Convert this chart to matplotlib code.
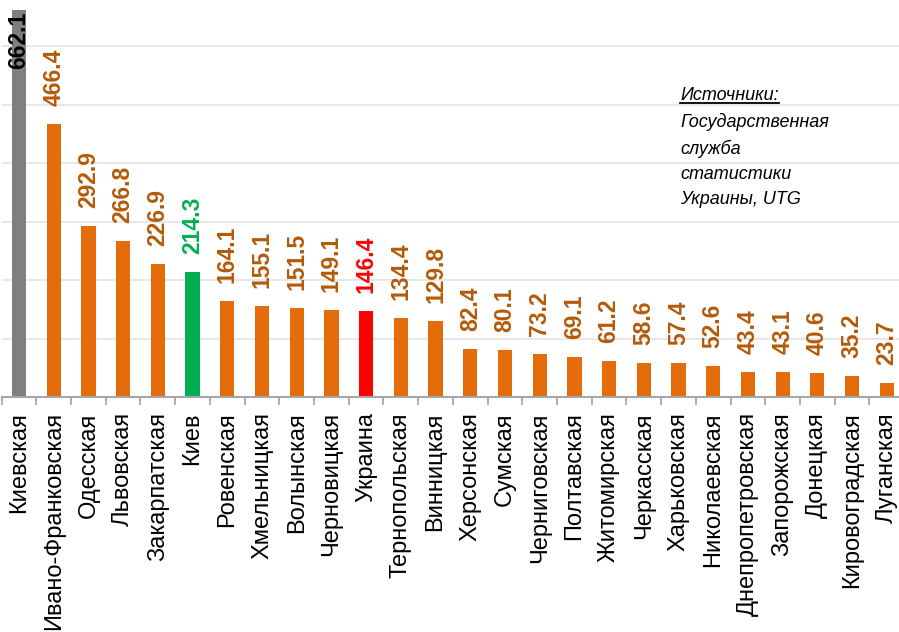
import matplotlib.pyplot as plt
from matplotlib.lines import Line2D
import numpy as np

plt.rcParams['font.family'] = ['Liberation Sans', 'DejaVu Sans']

regions = [
    "Киевская", "Ивано-Франковская", "Одесская", "Львовская", "Закарпатская",
    "Киев", "Ровенская", "Хмельницкая", "Волынская", "Черновицкая",
    "Украина", "Тернопольская", "Винницкая", "Херсонская", "Сумская",
    "Черниговская", "Полтавская", "Житомирская", "Черкасская", "Харьковская",
    "Николаевская", "Днепропетровская", "Запорожская", "Донецкая",
    "Кировоградская", "Луганская",
]
values = [
    662.1, 466.4, 292.9, 266.8, 226.9,
    214.3, 164.1, 155.1, 151.5, 149.1,
    146.4, 134.4, 129.8, 82.4, 80.1,
    73.2, 69.1, 61.2, 58.6, 57.4,
    52.6, 43.4, 43.1, 40.6,
    35.2, 23.7,
]

ORANGE = '#e46c0a'
ORANGE_TXT = '#b45a08'
special = {"Киевская": ('#7f7f7f', 'black'),
           "Киев": ('#00b050', '#00b050'),
           "Украина": ('#ff0000', '#ff0000')}

bar_colors = [special.get(r, (ORANGE, ORANGE_TXT))[0] for r in regions]
txt_colors = [special.get(r, (ORANGE, ORANGE_TXT))[1] for r in regions]

fig = plt.figure(figsize=(8.99, 6.32), dpi=100)
ax = fig.add_axes([1.65 / 899, 235 / 632, 902.5 / 899, 409 / 632])

x = np.arange(len(regions))
ax.bar(x, values, width=0.41, color=bar_colors, zorder=2)
ax.set_xlim(-0.5, len(regions) - 0.5)
ax.set_ylim(0, 700)

# value labels above the bars (the tallest one sits inside its bar)
for i, v in enumerate(values):
    if v > 600:
        ax.annotate(f"{v:.1f}", (i, v), xytext=(0, -1), textcoords='offset points',
                    rotation=90, ha='center', va='top', fontsize=16.5,
                    fontweight='bold', color=txt_colors[i])
    else:
        ax.annotate(f"{v:.1f}", (i, v), xytext=(0, 13), textcoords='offset points',
                    rotation=90, ha='center', va='bottom', fontsize=16.5,
                    fontweight='bold', color=txt_colors[i])

ax.set_yticks(np.arange(100, 701, 100))
ax.yaxis.grid(True, color='#e8e8e8', linewidth=1.5, zorder=0)
ax.tick_params(axis='y', left=False, labelleft=False)

ax.set_xticks(x)
ax.set_xticklabels(regions, rotation=90, fontsize=17)
ax.tick_params(axis='x', which='major', length=0, pad=11)
ax.set_xticks(np.arange(-0.5, len(regions), 1), minor=True)
ax.tick_params(axis='x', which='minor', length=6, width=1.3, color='#a6a6a6')

for s in ['top', 'right', 'left']:
    ax.spines[s].set_visible(False)
ax.spines['bottom'].set_color('#a6a6a6')
ax.spines['bottom'].set_linewidth(1.5)

# chart title, sitting mostly above the top edge
fig.text(0.51, 1.0 + 5 / 632, "Прямые иностранные инвестиции на душу населения, долл. США (2013 год)",
         ha='center', va='baseline', fontsize=17, fontweight='bold')

# source note
src = fig.text(680 / 899, 1 - 87 / 632, "Источники:", ha='left', va='top',
               fontsize=13, style='italic')
fig.text(680 / 899, 1 - 113 / 632,
         "Государственная\nслужба\nстатистики\nУкраины, UTG",
         ha='left', va='top', fontsize=13, style='italic', linespacing=1.62)
fig.canvas.draw()
bb = src.get_window_extent().transformed(fig.transFigure.inverted())
fig.add_artist(Line2D([bb.x0, bb.x1], [bb.y0 + 0.001, bb.y0 + 0.001],
                      transform=fig.transFigure, color='black', linewidth=1.3))

fig.savefig("out.png", dpi=100)
